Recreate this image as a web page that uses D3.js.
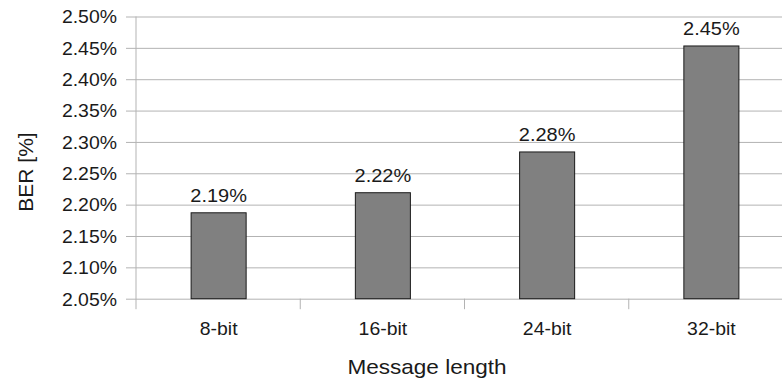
<!DOCTYPE html>
<html>
<head>
<meta charset="utf-8">
<script src="https://cdn.jsdelivr.net/npm/d3@7"></script>
<style>
  body { margin: 0; background: #fff; }
  svg { display: block; font-family: "Liberation Sans", Arial, sans-serif; }
</style>
</head>
<body>
<svg id="chart" width="782" height="380"></svg>
<script>
const categories = ["8-bit", "16-bit", "24-bit", "32-bit"];
const values = [2.187, 2.219, 2.284, 2.453];
const yTicks = [2.05, 2.10, 2.15, 2.20, 2.25, 2.30, 2.35, 2.40, 2.45, 2.50];
const yTitle = "BER [%]";
const xTitle = "Message length";

(function () {
const svg = d3.select("#chart");
const pLeft = 136, pRight = 793, pTop = 16.5, pBottom = 298.7;
const sx = 1.08;          // horizontal text stretch seen in the reference
const textCol = "#1a1a1a";

const x = d3.scaleBand().domain(categories).range([pLeft, pRight])
  .paddingInner(0.665).paddingOuter(0.3325);
const y = d3.scaleLinear().domain([2.05, 2.50]).range([pBottom, pTop]);

function label(px, py, txt, size, anchor, scale) {
  return svg.append("text")
    .attr("transform", `translate(${px},${py}) scale(${scale},1)`)
    .attr("text-anchor", anchor).attr("font-size", size).attr("fill", textCol)
    .text(txt);
}

// gridlines + tick marks (axis generator)
const yAxis = svg.append("g").attr("transform", `translate(${pLeft},0)`)
  .call(d3.axisLeft(y).tickValues(yTicks).tickSize(10).tickFormat(""));
yAxis.select(".domain").remove();
yAxis.selectAll(".tick line").attr("x1", -10).attr("x2", 782 - pLeft)
  .attr("stroke", "#b3b3b3").attr("stroke-width", 1);

// y tick labels
yTicks.forEach(t => {
  label(pLeft - 19, y(t), t.toFixed(2) + "%", 18, "end", sx).attr("dy", "0.38em");
});

// vertical axis line
svg.append("line").attr("x1", pLeft).attr("x2", pLeft).attr("y1", pTop).attr("y2", pBottom + 10.5)
  .attr("stroke", "#b3b3b3").attr("stroke-width", 1);

// x category boundary ticks
const step = x.step();
const bounds = categories.slice(1).map(c => x(c) - x.paddingInner() * step / 2);
svg.selectAll(".xtick").data(bounds).enter().append("line")
  .attr("x1", d => d).attr("x2", d => d).attr("y1", pBottom).attr("y2", pBottom + 10.5)
  .attr("stroke", "#b3b3b3");

// bars
svg.selectAll(".bar").data(values).enter().append("rect")
  .attr("x", (d, i) => x(categories[i]) + 0.5)
  .attr("y", d => y(d))
  .attr("width", x.bandwidth())
  .attr("height", d => pBottom - y(d))
  .attr("fill", "#808080").attr("stroke", "#1a1a1a").attr("stroke-width", 1);

// value labels
values.forEach((v, i) => {
  label(x(categories[i]) + x.bandwidth() / 2 + 0.5, y(v) - 11, v.toFixed(2) + "%", 18.5, "middle", sx);
});

// x labels
categories.forEach(c => {
  label(x(c) + x.bandwidth() / 2 + 0.5, 335, c, 18, "middle", sx);
});

// axis titles
label(427, 374, xTitle, 20.5, "middle", 1.1);
svg.append("text").attr("transform", "translate(33,172) rotate(-90)")
  .attr("text-anchor", "middle").attr("font-size", 21).attr("fill", textCol).text(yTitle);
})();
</script>
</body>
</html>
